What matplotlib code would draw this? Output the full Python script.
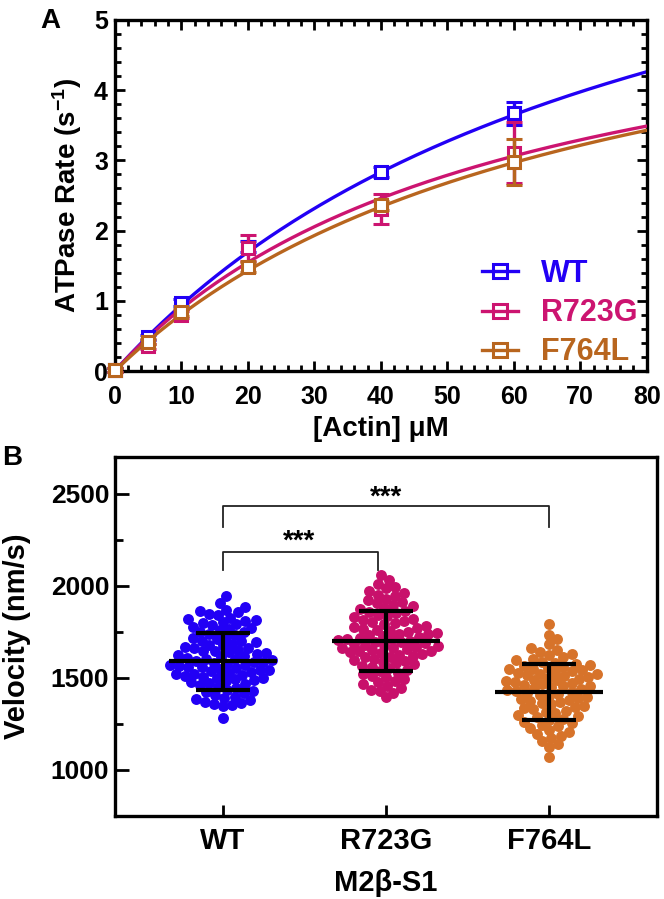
import numpy as np
import matplotlib
matplotlib.use("Agg")
import matplotlib.pyplot as plt
from matplotlib.lines import Line2D
from matplotlib.ticker import MultipleLocator

plt.rcParams['font.family'] = ['Liberation Sans', 'DejaVu Sans']
plt.rcParams['font.weight'] = 'bold'
plt.rcParams['mathtext.fontset'] = 'custom'
plt.rcParams['mathtext.rm'] = 'Liberation Sans:bold'
plt.rcParams['mathtext.default'] = 'rm'

# ---- panel A data: actin-activated ATPase ----
groups = ["WT", "R723G", "F764L"]
colors_a = ["#2200F5", "#CC1470", "#B8651E"]
actin = [0, 5, 10, 20, 40, 60]
rate_wt = [0.02, 0.48, 0.97, 1.77, 2.83, 3.67]
err_wt = [0.03, 0.04, 0.05, 0.08, 0.07, 0.16]
rate_r723g = [0.02, 0.35, 0.80, 1.75, 2.31, 3.11]
err_r723g = [0.03, 0.04, 0.05, 0.19, 0.21, 0.43]
rate_f764l = [0.02, 0.42, 0.84, 1.48, 2.36, 2.98]
err_f764l = [0.03, 0.04, 0.05, 0.07, 0.06, 0.33]
# Michaelis-Menten fit parameters (Vmax s^-1, KATPase uM)
vmax = [8.61, 6.00, 6.42]
katpase = [81.6, 57.6, 69.8]

# ---- panel B data: in vitro motility velocities (nm/s) ----
vel_wt = [1945, 1908, 1884, 1871, 1862, 1857, 1849, 1843, 1828, 1821, 1814, 1811,
          1803, 1798, 1792, 1787, 1779, 1771, 1766, 1758, 1751, 1747, 1739, 1733,
          1722, 1719, 1711, 1703, 1699, 1693, 1686, 1681, 1677, 1669, 1664, 1661,
          1653, 1648, 1646, 1639, 1633, 1628, 1626, 1618, 1613, 1609, 1604, 1601,
          1597, 1593, 1589, 1584, 1581, 1577, 1572, 1569, 1563, 1561, 1557, 1552,
          1548, 1544, 1541, 1536, 1533, 1527, 1524, 1519, 1515, 1511, 1506, 1502,
          1497, 1493, 1487, 1483, 1476, 1471, 1466, 1459, 1452, 1446, 1437, 1431,
          1423, 1416, 1408, 1399, 1393, 1386, 1378, 1371, 1364, 1359, 1354, 1347,
          1283]
vel_r723g = [2058, 2031, 2012, 1994, 1986, 1972, 1961, 1953, 1944, 1931, 1922, 1913,
             1905, 1898, 1889, 1881, 1872, 1866, 1858, 1851, 1844, 1836, 1829, 1822,
             1816, 1809, 1803, 1796, 1791, 1784, 1779, 1772, 1768, 1761, 1756, 1751,
             1745, 1741, 1736, 1731, 1727, 1722, 1718, 1713, 1709, 1704, 1701, 1697,
             1693, 1689, 1685, 1681, 1677, 1673, 1668, 1664, 1661, 1657, 1653, 1648,
             1644, 1639, 1635, 1631, 1626, 1621, 1616, 1611, 1605, 1599, 1593, 1587,
             1581, 1574, 1567, 1559, 1552, 1544, 1537, 1529, 1521, 1512, 1503, 1494,
             1485, 1476, 1466, 1457, 1446, 1437, 1428, 1419, 1394]
vel_f764l = [1791, 1734, 1712, 1683, 1662, 1651, 1643, 1631, 1622, 1612, 1604, 1596,
             1589, 1583, 1577, 1571, 1566, 1561, 1556, 1551, 1546, 1541, 1537, 1533,
             1528, 1524, 1519, 1514, 1509, 1505, 1501, 1496, 1491, 1487, 1482, 1477,
             1473, 1468, 1463, 1458, 1454, 1449, 1444, 1439, 1434, 1429, 1424, 1419,
             1414, 1408, 1403, 1397, 1391, 1386, 1380, 1374, 1368, 1362, 1356, 1349,
             1343, 1336, 1329, 1322, 1315, 1308, 1301, 1293, 1286, 1278, 1270, 1262,
             1254, 1246, 1238, 1229, 1219, 1209, 1198, 1186, 1173, 1158, 1142, 1127,
             1072]
vel_mean = [1590, 1698, 1423]
vel_sd = [156, 163, 154]
colors_b = ["#2200F5", "#C8106B", "#D7732A"]


def swarm_x(ax, xc, vals, dmin, step=1.5):
    # simple beeswarm in pixel space
    pts = ax.transData.transform(np.column_stack([np.full(len(vals), xc), vals]))
    order = np.argsort(vals)
    placed = []
    xs = np.zeros(len(vals))
    offs = [0.0]
    for j in range(1, 80):
        offs += [j * step, -j * step]
    for i in order:
        px, py = pts[i]
        for off in offs:
            if all((px + off - qx) ** 2 + (py - qy) ** 2 >= dmin ** 2 for qx, qy in placed):
                break
        placed.append((px + off, py))
        xs[i] = px + off
    back = ax.transData.inverted().transform(np.column_stack([xs, pts[:, 1]]))
    return back[:, 0]


fig = plt.figure(figsize=(6.64, 8.99), dpi=100)

# ================= Panel A =================
axA = fig.add_axes([0.173, 0.5873, 0.801, 0.3905])
rates = [rate_wt, rate_r723g, rate_f764l]
errs = [err_wt, err_r723g, err_f764l]
xfit = np.linspace(0, 80, 200)
for k in [2, 1, 0]:
    c = colors_a[k]
    axA.plot(xfit, vmax[k] * xfit / (katpase[k] + xfit), color=c, lw=2.4, zorder=2 + k)
    axA.errorbar(actin, rates[k], yerr=errs[k], fmt='s', color=c, mfc='white', mec=c,
                 ms=9, mew=2.2, elinewidth=2.4, capsize=5.5, capthick=2.4,
                 zorder=3 + k, clip_on=False)
axA.set_xlim(0, 80)
axA.set_ylim(0, 5)
axA.xaxis.set_major_locator(MultipleLocator(10))
axA.xaxis.set_minor_locator(MultipleLocator(2))
axA.yaxis.set_major_locator(MultipleLocator(1))
axA.yaxis.set_minor_locator(MultipleLocator(0.2))
axA.tick_params(which='both', direction='in', top=True, right=True, width=2)
axA.tick_params(which='major', length=7, labelsize=18)
axA.tick_params(which='minor', length=4)
axA.tick_params(axis='x', which='major', pad=10)
axA.tick_params(axis='y', which='major', pad=5)
for s in axA.spines.values():
    s.set_linewidth(2.4)
axA.set_xlabel("[Actin] μM", fontsize=20, fontweight='bold')
axA.xaxis.set_label_coords(0.5, -0.128)
axA.xaxis.label.set_va('top')
axA.set_ylabel("ATPase Rate (s$^{-1}$)", fontsize=20, fontweight='bold')
axA.yaxis.set_label_coords(-0.058, 0.5)

handles = [Line2D([], [], color=c, marker='s', mfc='none', mec=c, ms=10, mew=2.2, lw=2.4)
           for c in colors_a]
leg = axA.legend(handles, groups, loc='lower right', bbox_to_anchor=(1.035, -0.068),
                 frameon=False, prop={'size': 22, 'weight': 'bold'}, handlelength=1.2,
                 handletextpad=0.75, labelspacing=0.3, labelcolor='linecolor')
fig.text(0.06, 0.991, "A", fontsize=20, fontweight='bold', va='top')

# ================= Panel B =================
axB = fig.add_axes([0.173, 0.0923, 0.8165, 0.3994])
axB.set_xlim(-0.66, 2.66)
axB.set_ylim(750, 2700)
vels = [vel_wt, vel_r723g, vel_f764l]
for k in range(3):
    xs = swarm_x(axB, k, vels[k], dmin=8.5)
    axB.scatter(xs, vels[k], s=62, color=colors_b[k], linewidths=0, zorder=2)
    m, sd = vel_mean[k], vel_sd[k]
    axB.hlines(m, k - 0.33, k + 0.33, color='black', lw=3, zorder=4)
    axB.hlines([m - sd, m + sd], k - 0.165, k + 0.165, color='black', lw=3, zorder=4)
    axB.vlines(k, m - sd, m + sd, color='black', lw=3, zorder=4)

# significance brackets
axB.plot([0, 0, 2, 2], [2320, 2436, 2436, 2320], color='#222222', lw=1.3)
axB.plot([0.0, 0.0, 0.95, 0.95], [2085, 2183, 2183, 2085], color='#222222', lw=1.3)
axB.text(1.0, 2478, "***", fontsize=20, ha='center', va='center')
axB.text(0.47, 2238, "***", fontsize=20, ha='center', va='center')

axB.set_xticks([0, 1, 2])
axB.set_xticklabels(groups)
axB.yaxis.set_major_locator(MultipleLocator(500))
axB.yaxis.set_minor_locator(MultipleLocator(250))
axB.set_yticks([1000, 1500, 2000, 2500])
axB.tick_params(which='both', direction='in', width=2)
axB.tick_params(axis='y', which='major', length=10, labelsize=19, pad=4)
axB.tick_params(axis='y', which='minor', length=6)
axB.tick_params(axis='x', which='major', length=8, labelsize=21, pad=8)
axB.tick_params(axis='x', which='minor', bottom=False)
for s in axB.spines.values():
    s.set_linewidth(2.4)
axB.set_xlabel("M2β-S1", fontsize=21, fontweight='bold', labelpad=10)
axB.set_ylabel("Velocity (nm/s)", fontsize=21, fontweight='bold')
axB.yaxis.set_label_coords(-0.155, 0.5)
fig.text(0.003, 0.505, "B", fontsize=20, fontweight='bold', va='top')

fig.savefig("out.png", dpi=100)
